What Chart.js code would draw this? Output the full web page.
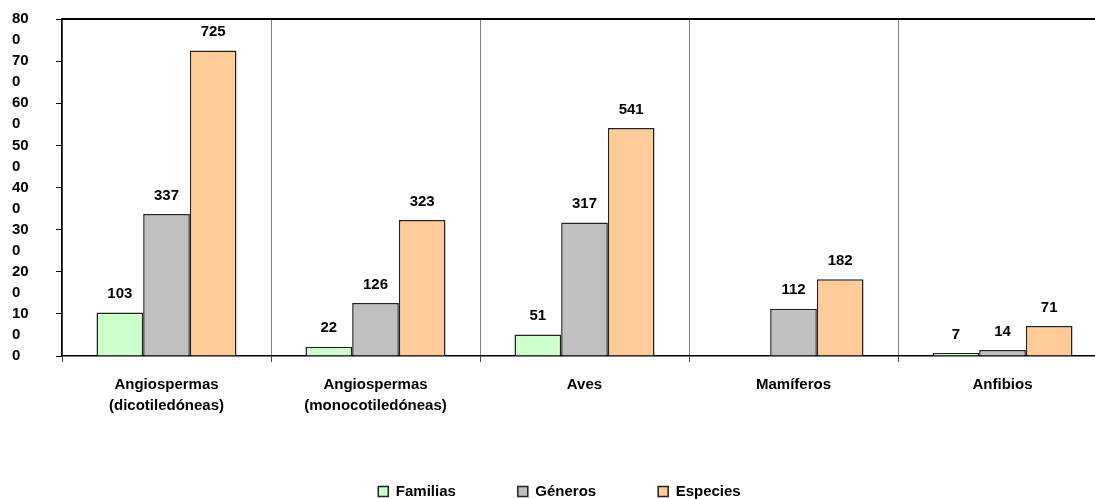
<!DOCTYPE html>
<html>
<head>
<meta charset="utf-8">
<script src="https://cdn.jsdelivr.net/npm/chart.js@4.4.1/dist/chart.umd.min.js"></script>
<style>
    html, body { margin: 0; padding: 0; background: #fff; overflow: hidden; }
    #wrap { position: absolute; left: 0; top: 0; width: 1110px; height: 509px; }
</style>
</head>
<body>
<div id="wrap"><canvas id="chart"></canvas></div>
<script>
const categories = [
    ['Angiospermas', '(dicotiledóneas)'],
    ['Angiospermas', '(monocotiledóneas)'],
    'Aves',
    'Mamíferos',
    'Anfibios'
];
const familias = [103, 22, 51, null, 7];
const generos = [337, 126, 317, 112, 14];
const especies = [725, 323, 541, 182, 71];
// y labels are wrapped in the original ("80" / "0")
const yTickLines = [['0'], ['10', '0'], ['20', '0'], ['30', '0'], ['40', '0'], ['50', '0'], ['60', '0'], ['70', '0'], ['80', '0']];

Chart.defaults.font.family = '"Liberation Sans", Arial, sans-serif';
Chart.defaults.font.size = 15;
Chart.defaults.font.weight = 'bold';
Chart.defaults.color = '#000';

// value above each bar
const valueLabels = {
    id: 'valueLabels',
    afterDatasetsDraw(chart) {
        const ctx = chart.ctx;
        ctx.save();
        ctx.font = 'bold 15px "Liberation Sans", Arial, sans-serif';
        ctx.fillStyle = '#000';
        ctx.textAlign = 'center';
        ctx.textBaseline = 'middle';
        chart.data.datasets.forEach((ds, i) => {
            chart.getDatasetMeta(i).data.forEach((bar, j) => {
                const v = ds.data[j];
                if (v === null) return;
                ctx.fillText(String(v), bar.x, bar.y - 18.5);
            });
        });
        ctx.restore();
    }
};

// top border of the plot area
const topLine = {
    id: 'topLine',
    beforeDatasetsDraw(chart) {
        const { ctx, chartArea } = chart;
        ctx.save();
        ctx.strokeStyle = '#000';
        ctx.lineWidth = 2;
        ctx.beginPath();
        ctx.moveTo(chartArea.left, chartArea.top);
        ctx.lineTo(chartArea.right, chartArea.top);
        ctx.stroke();
        ctx.restore();
    }
};

new Chart(document.getElementById('chart'), {
    type: 'bar',
    data: {
        labels: categories,
        datasets: [
            { label: 'Familias', data: familias, backgroundColor: '#CCFFCC', borderColor: '#222222', borderWidth: 1.5 },
            { label: 'Géneros', data: generos, backgroundColor: '#C0C0C0', borderColor: '#222222', borderWidth: 1.5 },
            { label: 'Especies', data: especies, backgroundColor: '#FFCC99', borderColor: '#222222', borderWidth: 1.5 }
        ]
    },
    options: {
        responsive: true,
        maintainAspectRatio: false,
        animation: false,
        layout: { padding: { left: 12, right: 3, top: 19, bottom: 0 } },
        datasets: { bar: { categoryPercentage: 0.67, barPercentage: 1.0 } },
        plugins: {
            legend: {
                position: 'bottom',
                labels: { boxWidth: 10, boxHeight: 10, padding: 62, color: '#000' }
            },
            tooltip: { enabled: false }
        },
        scales: {
            x: {
                grid: { offset: true, color: '#808080', tickColor: '#404040', tickLength: 6, lineWidth: 1 },
                border: { color: '#000', width: 1.5 },
                ticks: { padding: 12, font: { lineHeight: 1.4 }, maxRotation: 0, autoSkip: false },
                afterFit(scale) { scale.height = 66; }
            },
            y: {
                min: 0,
                max: 800,
                grid: { drawOnChartArea: false, tickColor: '#000', tickLength: 6 },
                border: { color: '#000', width: 1.5 },
                ticks: {
                    stepSize: 100,
                    autoSkip: false,
                    crossAlign: 'far',
                    labelOffset: 10.5,
                    font: { lineHeight: 1.4 },
                    callback: (value, index) => {
                        const lines = yTickLines[index];
                        return lines.length === 1 ? [lines[0], ''] : lines;
                    }
                },
                afterFit(scale) {
                    scale.width = 50;
                    scale.paddingTop = 0;
                    scale.paddingBottom = 0;
                }
            }
        }
    },
    plugins: [valueLabels, topLine]
});
</script>
</body>
</html>
